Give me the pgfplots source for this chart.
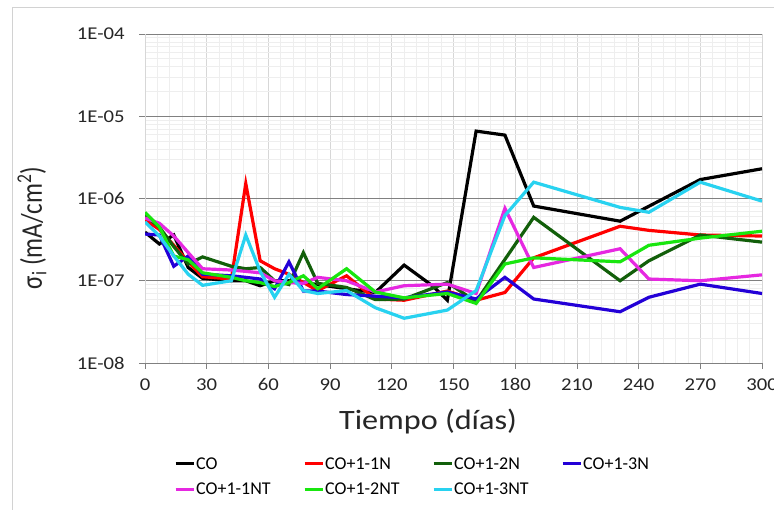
\documentclass[border=0pt]{standalone}
\usepackage{pgfplots}
\pgfplotsset{compat=1.18}
\usepackage{fontspec}
\setmainfont{Carlito}
\definecolor{cRed}{RGB}{255,0,0}
\definecolor{cDGreen}{RGB}{18,95,10}
\definecolor{cBlue}{RGB}{35,0,215}
\definecolor{cMag}{RGB}{230,40,225}
\definecolor{cGreen}{RGB}{25,230,15}
\definecolor{cCyan}{RGB}{40,210,240}
\definecolor{majgrid}{RGB}{128,128,128}
\definecolor{vgrid}{RGB}{215,215,215}
\definecolor{mingrid}{RGB}{238,238,238}
\begin{document}
\begin{tikzpicture}
\useasboundingbox (0pt,0pt) rectangle (774pt,-509pt);
\fill[white] (0pt,0pt) rectangle (774pt,-509pt);
\draw[gray!35, line width=1pt] (12pt,-520pt) -- (12pt,-7pt) -- (790pt,-7pt);
\begin{axis}[
  at={(145pt,-363pt)}, anchor=south west,
  scale only axis, width=617pt, height=329pt,
  xmin=0, xmax=300, ymode=log, ymin=1e-8, ymax=1e-4,
  xtick={0,30,...,300}, minor x tick num=4,
  ytick={1e-8,1e-7,1e-6,1e-5,1e-4},
  yticklabels={1E-08,1E-07,1E-06,1E-05,1E-04},
  /pgf/number format/assume math mode=true,
  tick label style={font=\fontsize{18}{20}\selectfont, text=black!85, xscale=1.15},
  yticklabel style={xshift=-9pt},
  xticklabel style={yshift=-6pt},
  axis x line*=bottom, axis y line*=left,
  x axis line style={draw=majgrid, line width=1pt, -},
  y axis line style={draw=vgrid, line width=1pt, -},
  tick align=outside, major tick length=6pt, minor tick length=0pt,
  tick style={draw=majgrid, line width=0.8pt},
  xmajorgrids, ymajorgrids, xminorgrids, yminorgrids,
  x grid style={draw=vgrid, line width=0.8pt},
  y grid style={draw=majgrid, line width=1pt},
  minor x grid style={draw=mingrid, line width=0.7pt},
  minor y grid style={draw=mingrid, line width=0.7pt},
  every axis plot/.append style={line width=3.2pt, mark=none, line join=miter},
  legend columns=4,
  legend style={at={(axis description cs:0.047,-0.283)}, anchor=north west, draw=none, fill=none,
     font=\fontsize{18}{20}\selectfont, inner sep=0pt,
     nodes={inner sep=1pt},
     /tikz/every even column/.append style={column sep=0pt},
     row sep=10pt},
  legend image code/.code={\draw[#1, line width=3pt] plot coordinates {(0pt,0pt) (18pt,0pt)};},
  legend cell align=left,
]
\addplot[black] coordinates {(0,3.9e-7) (7,2.8e-7) (14,3.6e-7) (21,1.45e-7) (28,1.07e-7) (42,1.0e-7) (49,1.0e-7) (56,8.7e-8) (63,1.0e-7) (70,1.0e-7) (77,9.5e-8) (84,9.0e-8) (98,8.0e-8) (112,7.2e-8) (126,1.55e-7) (140,8.6e-8) (147,5.8e-8) (161,6.6e-6) (175,5.9e-6) (189,8.1e-7) (231,5.3e-7) (270,1.7e-6) (300,2.3e-6)};
\addlegendentry{\makebox[106pt][l]{CO}}
\addplot[cRed] coordinates {(0,5.5e-7) (7,4.2e-7) (14,2.7e-7) (21,1.7e-7) (28,1.12e-7) (42,1.05e-7) (49,1.52e-6) (56,1.75e-7) (63,1.4e-7) (70,1.2e-7) (77,9.5e-8) (84,7.6e-8) (98,1.15e-7) (112,6.0e-8) (126,5.8e-8) (147,7.5e-8) (161,5.8e-8) (175,7.2e-8) (189,1.9e-7) (231,4.6e-7) (245,4.1e-7) (270,3.6e-7) (300,3.5e-7)};
\addlegendentry{\makebox[106pt][l]{CO+1-1N}}
\addplot[cDGreen] coordinates {(0,6.2e-7) (7,4.5e-7) (14,2.6e-7) (21,1.6e-7) (28,1.95e-7) (42,1.5e-7) (49,1.4e-7) (56,1.45e-7) (63,1.0e-7) (70,9.0e-8) (77,2.2e-7) (84,9.3e-8) (98,8.3e-8) (112,5.9e-8) (126,6.0e-8) (147,9.5e-8) (161,5.6e-8) (189,5.9e-7) (231,1.0e-7) (245,1.75e-7) (270,3.6e-7) (300,2.95e-7)};
\addlegendentry{\makebox[106pt][l]{CO+1-2N}}
\addplot[cBlue] coordinates {(0,3.7e-7) (7,3.6e-7) (14,1.5e-7) (21,2.0e-7) (28,1.2e-7) (42,1.15e-7) (49,1.1e-7) (56,1.05e-7) (63,8.0e-8) (70,1.7e-7) (77,7.5e-8) (84,7.5e-8) (98,6.8e-8) (112,6.5e-8) (126,6.2e-8) (147,7.3e-8) (161,6.0e-8) (175,1.1e-7) (189,6.0e-8) (231,4.2e-8) (245,6.3e-8) (270,9.1e-8) (300,7.0e-8)};
\addlegendentry{CO+1-3N}
\addplot[cMag] coordinates {(0,5.8e-7) (7,5.0e-7) (14,3.5e-7) (21,2.2e-7) (28,1.4e-7) (42,1.35e-7) (49,1.3e-7) (56,1.25e-7) (63,1.0e-7) (70,9.5e-8) (77,9.3e-8) (84,1.1e-7) (98,1.0e-7) (112,7.3e-8) (126,8.7e-8) (147,9.1e-8) (161,7.0e-8) (175,7.6e-7) (189,1.45e-7) (231,2.45e-7) (245,1.05e-7) (270,1.0e-7) (300,1.18e-7)};
\addlegendentry{\makebox[106pt][l]{CO+1-1NT}}
\addplot[cGreen] coordinates {(0,6.8e-7) (7,4.5e-7) (14,2.0e-7) (21,1.8e-7) (28,1.25e-7) (42,1.1e-7) (49,1.0e-7) (56,9.5e-8) (63,8.5e-8) (70,9.5e-8) (77,1.15e-7) (84,8.0e-8) (98,1.4e-7) (112,7.3e-8) (126,6.2e-8) (147,7.0e-8) (161,5.3e-8) (175,1.6e-7) (189,1.9e-7) (231,1.7e-7) (245,2.7e-7) (270,3.3e-7) (300,4.0e-7)};
\addlegendentry{\makebox[106pt][l]{CO+1-2NT}}
\addplot[cCyan] coordinates {(0,5.2e-7) (7,3.5e-7) (14,2.0e-7) (21,1.2e-7) (28,8.8e-8) (42,1.0e-7) (49,3.6e-7) (56,1.3e-7) (63,6.3e-8) (70,1.2e-7) (77,7.6e-8) (84,7.0e-8) (98,7.6e-8) (112,4.7e-8) (126,3.5e-8) (147,4.4e-8) (161,7.6e-8) (175,6.2e-7) (189,1.58e-6) (231,7.8e-7) (245,6.8e-7) (270,1.58e-6) (300,9.3e-7)};
\addlegendentry{\makebox[106pt][l]{CO+1-3NT}}
\end{axis}
\node[xscale=1.2, rotate=90, font=\fontsize{25}{28}\selectfont, text=black!85] at (32pt,-228pt) {σ\textsubscript{i} (mA/cm\textsuperscript{2})};
\node[xscale=1.15, font=\fontsize{28}{30}\selectfont, text=black!85] at (428pt,-422pt) {Tiempo (días)};
\end{tikzpicture}
\end{document}
